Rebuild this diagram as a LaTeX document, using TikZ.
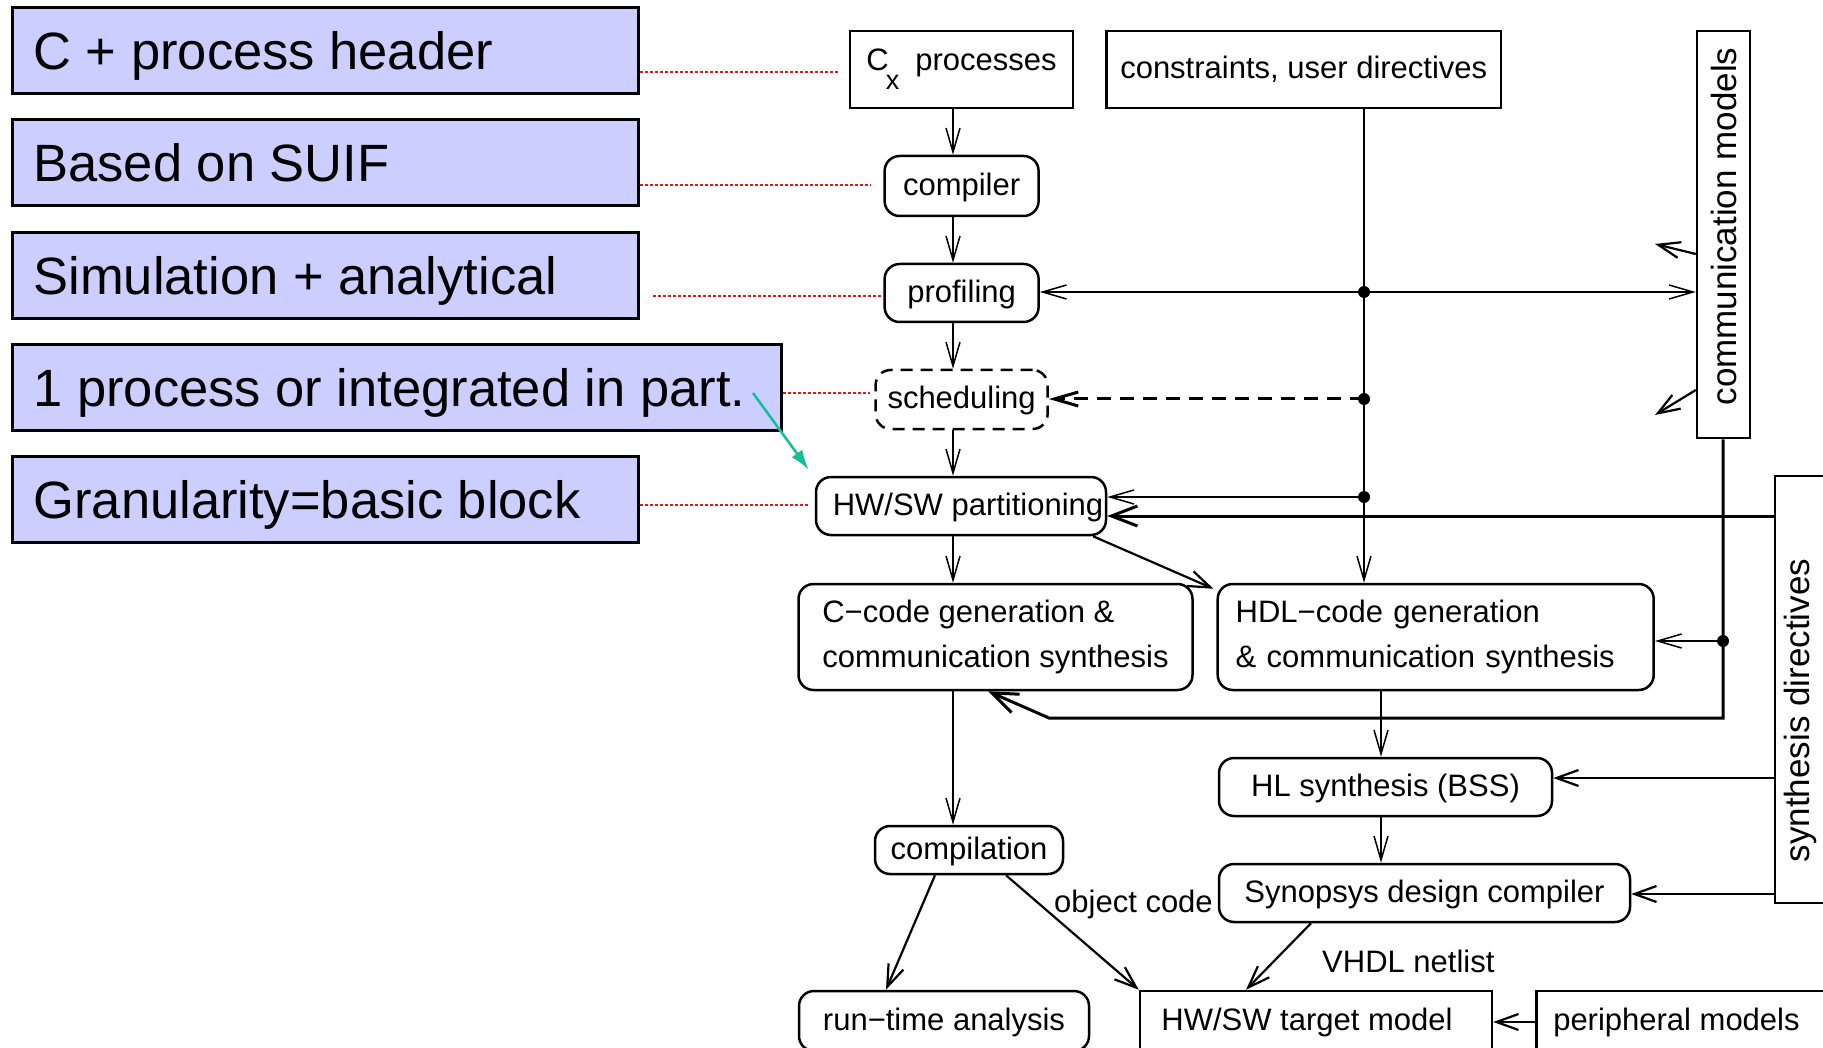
\documentclass[tikz,border=0pt]{standalone}
\usepackage{fontspec}
\setmainfont{Liberation Sans}
\usepackage{graphicx}
\usetikzlibrary{arrows.meta,calc}
\definecolor{notefill}{RGB}{204,206,255}
\definecolor{notered}{RGB}{235,20,20}
\definecolor{pointer}{RGB}{20,190,150}

\begin{document}
\begin{tikzpicture}[x=1pt,y=-1pt,
  note/.style={draw=black,line width=3pt,fill=notefill,minimum height=86pt,
    inner xsep=21pt,inner ysep=0pt,anchor=west,
    font=\fontsize{52.5}{60}\selectfont,text height=37.5pt,text depth=0pt},
  boxfont/.style={font=\fontsize{31}{45}\selectfont},
  oneline/.style={text height=22.3pt,text depth=4pt},
  plainbox/.style={draw,line width=2.5pt,inner sep=0pt,boxfont},
  procbox/.style={plainbox,rounded corners=15pt},
  sidebox/.style={draw,line width=2.5pt,inner sep=0pt,font=\fontsize{35}{40}\selectfont},
  flow/.style={line width=1.5pt,-{Straight Barb[length=24pt,width=14pt]}},
  midflow/.style={line width=2.2pt,-{Straight Barb[length=22pt,width=16pt]}},
  heavy/.style={line width=3pt,-{Straight Barb[length=26pt,width=20pt]}},
  reddot/.style={notered,line width=2.5pt,dash pattern=on 2.5pt off 2.5pt},
  junction/.style={fill=black}
]
\useasboundingbox (0,0) rectangle (1823,1048);
\clip (0,0) rectangle (1823,1048);

% annotation boxes on the left
\node[note] (L1) at (11,51) {\makebox[584pt][l]{C + process header}};
\node[note] (L2) at (11,163) {\makebox[584pt][l]{Based on SUIF}};
\node[note] (L3) at (11,275.5) {\makebox[584pt][l]{Simulation + analytical}};
\node[note] (L4) at (11,387.5) {\makebox[727pt][l]{1 process or integrated in part.}};
\node[note] (L5) at (11,499.5) {\makebox[584pt][l]{Granularity=basic block}};

% flow nodes
\node[plainbox,minimum width=223pt,minimum height=77pt] (cx) at (961.5,69.5)
  {C\kern-3pt\raisebox{-19pt}{\fontsize{27}{27}\selectfont x}\hspace{16pt}processes};
\node[plainbox,oneline,minimum width=394.5pt,minimum height=77pt] (cons) at (1303.75,69.5)
  {constraints, user directives};
\node[procbox,oneline,minimum width=154pt,minimum height=60pt] (compiler) at (961.6,186) {compiler};
\node[procbox,oneline,minimum width=154pt,minimum height=58pt] (profiling) at (961.6,293) {profiling};
\node[procbox,oneline,dash pattern=on 12pt off 8pt,minimum width=172pt,minimum height=59pt]
  (scheduling) at (961.6,399.5) {scheduling};
\node[procbox,oneline,minimum width=290pt,minimum height=58pt] (partition) at (961,506)
  {\hspace*{14pt}HW/SW partitioning};
\node[procbox,align=left,minimum width=394pt,minimum height=106pt] (ccode) at (995.5,637)
  {C−code generation \&\\communication synthesis};
\node[procbox,align=left,text width=400pt,inner xsep=18pt,minimum height=106pt] (hdl)
  at (1435.7,637) {HDL−code generation\\\& communication synthesis};
\node[procbox,oneline,minimum width=188pt,minimum height=48pt] (compilation) at (969,850)
  {compilation};
\node[procbox,oneline,minimum width=333pt,minimum height=58pt] (hl) at (1385.5,787)
  {HL synthesis (BSS)};
\node[procbox,oneline,minimum width=411pt,minimum height=58pt] (synopsys) at (1424.5,893)
  {Synopsys design compiler};
\node[procbox,oneline,minimum width=290pt,minimum height=60pt] (runtime) at (944,1021)
  {run−time analysis};
\node[plainbox,oneline,minimum width=352pt,minimum height=60pt] (target) at (1316,1021)
  {HW/SW target model\hspace*{18pt}};
\node[plainbox,oneline,anchor=west,inner xsep=17pt,minimum height=60pt] (periph)
  at (1535,1021) {\makebox[300pt][l]{peripheral models}};
\node[sidebox,minimum width=53pt,minimum height=407pt] (comm) at (1723.5,234.5)
  {\rotatebox{90}{\hspace*{16pt}communication models}};
\node[sidebox,minimum width=50pt,minimum height=427pt] (synthdir) at (1800,689.5)
  {\rotatebox{90}{synthesis directives\hspace*{42pt}}};

% edge labels
\node[boxfont,anchor=base west,inner sep=0pt] (objcode) at (1054,912) {object code};
\node[boxfont,anchor=base west,inner sep=0pt] (netlist) at (1322,972) {VHDL netlist};

% routing points
\coordinate (colA) at (953,0);
\coordinate (colC) at (1381,0);
\coordinate (P) at (1364,292);
\coordinate (S) at (1364,399);
\coordinate (H) at (1364,497);
\coordinate (D) at (1723,641);
\coordinate (fbBend) at (1049,718);
\coordinate (commOutA) at (1655,244);
\coordinate (commOutB) at (1655,415);

% dotted leaders from the annotations
\draw[reddot] (L1.east |- 0,72) -- ($(cx.west |- 0,72)+(-10,0)$);
\draw[reddot] (L2.east |- 0,185) -- ($(compiler.west |- 0,185)+(-12,0)$);
\draw[reddot] ($(L3.east |- 0,296)+(13,0)$) -- (profiling.west |- 0,296);
\draw[reddot] (L4.east |- 0,393) -- ($(scheduling.west |- 0,393)+(-4,0)$);
\draw[reddot] (L5.east |- 0,505) -- ($(partition.west |- 0,505)+(-6,0)$);
\draw[pointer,line width=2.5pt,-{Latex[length=20pt,width=13pt]}]
  ($(L4.east)+(-30,5.5)$) -- ($(partition.north west)+(-6,-6)$);

% main software chain
\draw[flow] (cx.south -| colA) -- (compiler.north -| colA);
\draw[flow] (compiler.south -| colA) -- (profiling.north -| colA);
\draw[flow] (profiling.south -| colA) -- (scheduling.north -| colA);
\draw[flow] (scheduling.south -| colA) -- (partition.north -| colA);
\draw[flow] (partition.south -| colA) -- (ccode.north -| colA);
\draw[flow] (ccode.south -| colA) -- (compilation.north -| colA);

% constraints bus
\draw[flow] (cons.south -| P) -- (hdl.north -| P);
\draw[flow] (P) -- (profiling.east |- P);
\draw[flow] (P) -- (comm.north west |- P);
\draw[flow,line width=3pt,dash pattern=on 14pt off 9pt] (S) -- (scheduling.east |- S);
\draw[flow] (H) -- (partition.east |- H);
\fill[junction] (P) circle (6pt);
\fill[junction] (S) circle (6pt);
\fill[junction] (H) circle (6pt);

% synthesis directives feeds
\draw[heavy] (synthdir.west |- 0,516) -- (partition.east |- 0,516);
\draw[midflow] (synthdir.west |- 0,778) -- (hl.east |- 0,778);
\draw[midflow] (synthdir.west |- 0,894) -- (synopsys.east |- 0,894);

% partitioning to hardware path
\draw[midflow] (partition.south -| 1093,0) -- ($(hdl.north west)+(-3,6)$);

% communication models
\draw[heavy] (comm.south -| D) -- (D |- fbBend) -- (fbBend) -- (ccode.south -| 988,0);
\draw[flow] (D) -- (hdl.east |- D);
\fill[junction] (D) circle (6pt);
\draw[midflow] (comm.north west |- 0,254) -- (commOutA);
\draw[midflow] (comm.north west |- 0,390) -- (commOutB);

% hardware chain
\draw[flow] (hdl.south -| colC) -- (hl.north -| colC);
\draw[flow] (hl.south -| colC) -- (synopsys.north -| colC);

% back end
\draw[midflow] (compilation.south -| 935,0) -- (runtime.north -| 886,0);
\draw[midflow] (compilation.south -| 1006,0) -- (target.north west);
\draw[midflow] (synopsys.south -| 1311,0) -- (target.north -| 1246,0);
\draw[midflow] (periph.west |- 0,1022) -- (target.east |- 0,1022);
\end{tikzpicture}
\end{document}
